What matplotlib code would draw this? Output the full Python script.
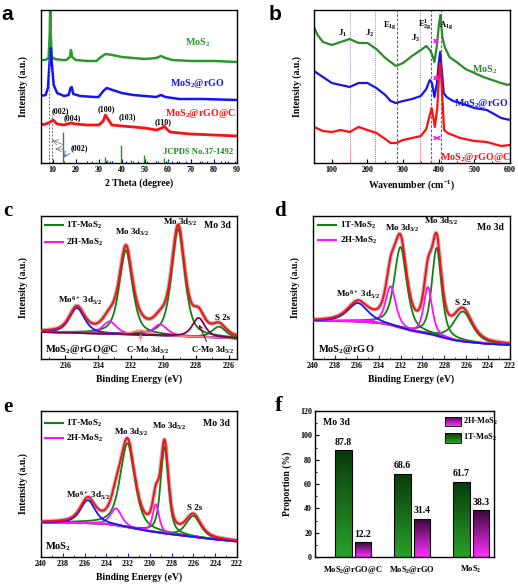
import numpy as np
import matplotlib
matplotlib.use("Agg")
import matplotlib.pyplot as plt
from matplotlib.colors import LinearSegmentedColormap
from matplotlib.ticker import MultipleLocator

plt.rcParams['font.family'] = ['Liberation Serif', 'DejaVu Serif']
plt.rcParams['font.weight'] = 'bold'
plt.rcParams['mathtext.default'] = 'regular'
plt.rcParams['axes.linewidth'] = 1.0

# ---------------- data: panel a (XRD) ----------------
xrd_x_mos2 = [5, 7, 8.3, 8.8, 9.0, 9.2, 9.7, 11, 14, 16, 17.5, 18, 18.5, 20, 25, 29, 31, 33, 36, 40, 45, 50, 55, 57, 59, 62, 70, 80, 90]
xrd_y_mos2 = [103, 103, 105, 130, 160, 130, 106, 104, 103, 103, 106, 113, 106, 103, 102, 102, 106, 109, 108, 106, 105, 104, 105, 107, 105, 103, 102, 102, 101]
xrd_x_rgo = [5, 7, 8, 8.7, 9.2, 9.7, 10.5, 12, 15, 17, 17.8, 18.3, 19, 22, 28, 30, 32, 33.5, 36, 40, 45, 50, 55, 57, 59, 65, 75, 90]
xrd_y_rgo = [67, 68, 75, 100, 115, 100, 78, 70, 67, 68, 75, 76, 69, 67, 66, 66, 72, 75, 73, 70, 68, 67, 66, 68, 66, 64, 64, 63]
xrd_x_c = [5, 7, 9, 10.3, 12, 15, 18, 20, 25, 30, 32, 32.9, 34, 35.7, 40, 45, 50, 55, 57.5, 58.4, 59.5, 61, 65, 70, 80, 90]
xrd_y_c = [38, 39, 41, 43, 39, 38, 40, 39, 38, 38, 42, 48, 44, 38, 37, 36, 35, 33, 35, 37, 34, 31, 30, 29, 28, 27]
jcpds_pos = [14.4, 29.0, 32.7, 33.5, 35.9, 39.5, 44.2, 49.8, 55.9, 58.3, 60.1]
jcpds_h = [31, 1.5, 6, 3, 2, 18, 3, 8, 2, 5, 3]
ref2_pos = [20, 27, 33, 36, 42, 47, 51, 55, 59, 62, 64, 68, 70, 74, 77, 80, 83, 86, 89]
ref2_h = [2, 2, 2, 2, 2, 2, 2, 2, 2, 2, 2, 2, 2, 2, 2, 2, 2, 2, 2]

# ---------------- data: panel b (Raman) ----------------
ram_x_mos2 = [50, 60, 75, 100, 125, 150, 175, 200, 225, 250, 265, 280, 300, 325, 350, 365, 375, 382, 388, 395, 401, 405, 410, 417, 430, 450, 475, 500, 525, 550, 575, 594, 600]
ram_y_mos2 = [136, 128, 121, 118, 121, 124, 120, 120, 114, 105, 101, 97, 100, 107, 113, 117, 113, 108, 101, 118, 140, 148, 126, 116, 106, 101, 94, 90, 86, 83, 80, 78, 79]
ram_x_rgo = [50, 75, 100, 125, 150, 175, 200, 225, 250, 265, 280, 300, 325, 350, 365, 375, 381, 388, 395, 400, 404, 408, 414, 422, 440, 460, 500, 535, 575, 600]
ram_y_rgo = [92, 86, 80, 78, 76, 80, 80, 75, 68, 62, 60, 62, 64, 67, 74, 83, 80, 66, 80, 100, 111, 95, 70, 66, 62, 60, 55, 53, 45, 43]
ram_x_c = [50, 75, 100, 125, 150, 175, 200, 225, 250, 265, 280, 300, 325, 350, 365, 375, 380, 385, 389, 396, 401, 404, 408, 415, 425, 460, 500, 535, 575, 600]
ram_y_c = [36, 32, 31, 33, 31, 36, 33, 30, 24, 20, 20, 23, 25, 27, 34, 48, 55, 45, 36, 55, 90, 100, 80, 33, 30, 25, 22, 21, 17, 18]
raman_lines_dot = [150, 220, 348]
raman_lines_dash = [283, 378, 405]

# ---------------- data: XPS panels c, d, e ----------------
c_bg_x = [237.5, 234, 230, 226, 225.5]
c_bg_y = [27, 25.5, 23.5, 21, 20.5]
c_1t_pos = [232.3, 229.1]; c_1t_h = [84, 107]; c_1t_w = [0.95, 0.95]
c_2h_pos = [233.3, 230.2]; c_2h_h = [12.5, 11]; c_2h_w = [1.0, 1.0]
c_mo6_pos = 235.3; c_mo6_h = 25; c_mo6_w = 1.1
c_cmo_pos = [231.4, 227.85]; c_cmo_h = [4.5, 19]; c_cmo_w = [1.1, 0.9]
c_s2s_pos = 226.6; c_s2s_h = 11; c_s2s_w = 1.0

d_bg_x = [240, 238, 236, 234, 233, 232, 231, 230, 229, 228, 227, 226, 224, 222]
d_bg_y = [38, 38, 37.5, 36, 34, 31, 28, 26, 24, 21, 18.5, 17, 15, 14]
d_1t_pos = [232.0, 228.7]; d_1t_h = [81, 88]; d_1t_w = [1.35, 1.05]
d_2h_pos = [232.9, 229.5]; d_2h_h = [39, 47]; d_2h_w = [1.1, 0.9]
d_mo6_pos = 235.9; d_mo6_h = 18.5; d_mo6_w = 2.2
d_s2s_pos = 226.3; d_s2s_h = 30; d_s2s_w = 2.0

e_bg_x = [240, 236, 234, 233, 232, 231, 230, 229, 228, 226, 224, 222]
e_bg_y = [34.5, 34, 33, 31.5, 29.5, 27.5, 25.5, 24, 22.5, 20, 17.5, 15.5]
e_1t_pos = [232.05, 228.65]; e_1t_h = [84, 87]; e_1t_w = [1.6, 0.85]
e_2h_pos = [233.1, 229.45]; e_2h_h = [17, 28]; e_2h_w = [1.2, 0.7]
e_mo6_pos = 235.7; e_mo6_h = 23; e_mo6_w = 1.6
e_s2s_pos = 226.0; e_s2s_h = 21; e_s2s_w = 1.6

# ---------------- data: panel f ----------------
f_categories = ['MoS$_2$@rGO@C', 'MoS$_2$@rGO', 'MoS$_2$']
f_1t = [87.8, 68.6, 61.7]
f_2h = [12.2, 31.4, 38.3]

GREEN = '#1e8c1e'
BLUE = '#1515f0'
RED = '#ff1010'
MAG = '#ff10ff'
XGREEN = '#108010'

fig = plt.figure(figsize=(5.18, 5.88), dpi=100)
W, H = 518.0, 588.0


def add_ax(l, t, r, b):
    return fig.add_axes([l / W, 1 - b / H, (r - l) / W, (b - t) / H])


def style(ax, maj, mnr, tcolor='black'):
    ax.tick_params(axis='x', which='both', direction='in', labelsize=5.8, pad=2, color=tcolor)
    ax.tick_params(axis='x', which='major', length=3, width=0.8)
    ax.tick_params(axis='x', which='minor', length=1.6, width=0.6)
    ax.xaxis.set_major_locator(MultipleLocator(maj))
    ax.xaxis.set_minor_locator(MultipleLocator(mnr))
    ax.set_yticks([])
    for lab in ax.get_xticklabels():
        lab.set_fontweight('bold')


def pv(x, c, h, w, eta=0.6):
    g = np.exp(-4 * np.log(2) * ((x - c) / w) ** 2)
    l = 1.0 / (1 + 4 * ((x - c) / w) ** 2)
    return h * (eta * l + (1 - eta) * g)


# ================= panel a =================
ax = add_ax(41, 10, 237, 163)
ax.plot(xrd_x_mos2, xrd_y_mos2, color='#2a9a2a', lw=1.8)
ax.plot(xrd_x_rgo, xrd_y_rgo, color=BLUE, lw=1.8)
ax.plot(xrd_x_c, xrd_y_c, color=RED, lw=2.0)
ax.vlines(jcpds_pos, 0, jcpds_h, color='#1a9a1a', lw=1.0)
ax.vlines(ref2_pos, 0, ref2_h, color=BLUE, lw=0.8)
ax.plot([8.4, 8.4], [0, 150], color='#707070', lw=0.7, ls=(0, (2, 1.5)))
ax.plot([9.7, 9.7], [0, 48], color='#707070', lw=0.7, ls=(0, (2, 1.5)))
ax.annotate('', xy=(8.6, 24), xytext=(16, 17), arrowprops=dict(arrowstyle='->', color='#808080', lw=0.6))
ax.annotate('', xy=(9.9, 14), xytext=(16, 14), arrowprops=dict(arrowstyle='->', color='#808080', lw=0.6))
ax.annotate('', xy=(14.4, 3), xytext=(16.5, 11), arrowprops=dict(arrowstyle='->', color='#5060c0', lw=0.6))
ax.text(21.5, 15, '(002)', fontsize=5.8, ha='center', va='center')
for lx, ly, s in [(13.3, 52, '(002)'), (18.5, 45, '(004)'), (33.2, 54, '(100)'), (42.4, 46, '(103)'), (58, 41, '(110)')]:
    ax.text(lx, ly, s, fontsize=5.8, ha='center', va='center')
ax.text(73, 120, 'MoS$_2$', color='#2a9a2a', fontsize=7.2, ha='center', va='center')
ax.text(73, 80, 'MoS$_2$@rGO', color=BLUE, fontsize=7.2, ha='center', va='center')
ax.text(74, 50, 'MoS$_2$@rGO@C', color=RED, fontsize=7.2, ha='center', va='center')
ax.text(73, 11, 'JCPDS No.37-1492', color='#1a8a1a', fontsize=6.2, ha='center', va='center')
ax.set_xlim(5, 90)
ax.set_ylim(0, 153)
style(ax, 10, 5)
ax.set_xlabel('2 Theta (degree)', fontsize=7, fontweight='bold', labelpad=3)
ax.set_ylabel('Intensity (a.u.)', fontsize=7, fontweight='bold', labelpad=9)
fig.text(7 / W, 1 - 15 / H, 'a', fontsize=15, fontweight='bold', family='Liberation Sans', ha='center', va='center')

# ================= panel b =================
ax = add_ax(314, 10, 510, 163)
for xv in raman_lines_dot:
    ax.axvline(xv, color='#9090b8', lw=0.7, ls=(0, (1, 1.2)))
    ax.plot([xv, xv], [0, 30], color='#ff7070', lw=0.7, ls=(0, (1, 1.2)))
for xv in raman_lines_dash:
    ax.axvline(xv, color='#606090', lw=0.8, ls=(0, (2.5, 1.5)))
ax.plot(ram_x_mos2, ram_y_mos2, color='#2a8a2a', lw=1.6)
ax.plot(ram_x_rgo, ram_y_rgo, color=BLUE, lw=1.6)
ax.plot(ram_x_c, ram_y_c, color=RED, lw=1.6)
for yy, x0 in [(122, 377), (85, 377), (25, 382)]:
    ax.annotate('', xy=(x0, yy), xytext=(408, yy), arrowprops=dict(arrowstyle='<->', color=MAG, lw=1.2, mutation_scale=5))
for lx, ly, s in [(131, 130, 'J$_1$'), (207, 130, 'J$_2$'), (263, 138, 'E$_{1g}$'), (334, 125, 'J$_3$'), (362, 138, 'E$^1_{2g}$'), (421, 138, 'A$_{1g}$')]:
    ax.text(lx, ly, s, fontsize=6.3, ha='center', va='center')
ax.text(530, 93, 'MoS$_2$', color='#2a8a2a', fontsize=7.2, ha='center', va='center')
ax.text(519, 60, 'MoS$_2$@rGO', color=BLUE, fontsize=7.2, ha='center', va='center')
ax.text(502, 6, 'MoS$_2$@rGO@C', color=RED, fontsize=7.2, ha='center', va='center')
ax.set_xlim(50, 600)
ax.set_ylim(0, 153)
style(ax, 100, 50)
ax.set_xlabel('Wavenumber (cm$^{-1}$)', fontsize=7, fontweight='bold', labelpad=3)
ax.set_ylabel('Intensity (a.u.)', fontsize=7, fontweight='bold', labelpad=9)
fig.text(275 / W, 1 - 14 / H, 'b', fontsize=15, fontweight='bold', family='Liberation Sans', ha='center', va='center')


# ================= XPS helper =================
def xps_panel(ax, xlim, bg_x, bg_y, t_pos, t_h, t_w, h_pos, h_h, h_w, m_pos, m_h, m_w, s_pos, s_h, s_w,
              extra=None, bg_color=MAG, raw_color='#c4c8d4'):
    x = np.linspace(min(xlim), max(xlim), 800)
    bg = np.interp(x, bg_x[::-1], bg_y[::-1]) if bg_x[0] > bg_x[-1] else np.interp(x, bg_x, bg_y)
    comps = []
    for p, hh, ww in zip(t_pos, t_h, t_w):
        comps.append((pv(x, p, hh, ww), XGREEN))
    comps.append((pv(x, s_pos, s_h, s_w), XGREEN))
    for p, hh, ww in zip(h_pos, h_h, h_w):
        comps.append((pv(x, p, hh, ww), MAG))
    comps.append((pv(x, m_pos, m_h, m_w), BLUE))
    if extra:
        for p, hh, ww, col in extra:
            comps.append((pv(x, p, hh, ww), col))
    env = bg + sum(c for c, _ in comps)
    ax.plot(x, env, color=raw_color, lw=3.2, zorder=1)
    ax.plot(x, bg, color=bg_color, lw=1.3, zorder=2)
    for c, col in comps:
        ax.plot(x, bg + c, color=col, lw=1.3, zorder=3)
    ax.plot(x, env, color=RED, lw=1.5, zorder=4)
    ax.set_xlim(*xlim)


def xps_legend(ax, x0, x1, xt, y1, y2):
    ax.plot([x0, x1], [y1, y1], color=XGREEN, lw=1.5, transform=ax.transAxes)
    ax.plot([x0, x1], [y2, y2], color=MAG, lw=1.5, transform=ax.transAxes)
    ax.text(xt, y1, '1T-MoS$_2$', transform=ax.transAxes, fontsize=6.5, va='center')
    ax.text(xt, y2, '2H-MoS$_2$', transform=ax.transAxes, fontsize=6.5, va='center')


# ================= panel c =================
ax = add_ax(41, 216, 237, 359)
xps_panel(ax, (237.5, 225.5), c_bg_x, c_bg_y, c_1t_pos, c_1t_h, c_1t_w, c_2h_pos, c_2h_h, c_2h_w,
          c_mo6_pos, c_mo6_h, c_mo6_w, c_s2s_pos, c_s2s_h, c_s2s_w,
          extra=[(c_cmo_pos[0], c_cmo_h[0], c_cmo_w[0], '#ff8080'), (c_cmo_pos[1], c_cmo_h[1], c_cmo_w[1], '#800050')],
          bg_color=XGREEN, raw_color='#bdbdbd')
ax.set_ylim(0, 143)
style(ax, 2, 1)
xps_legend(ax, 0.02, 0.112, 0.13, 0.937, 0.818)
ax.text(231.9, 127, 'Mo 3d$_{3/2}$', fontsize=6.5, ha='center', va='center')
ax.text(229.0, 137, 'Mo 3d$_{5/2}$', fontsize=6.5, ha='center', va='center')
ax.text(226.7, 134, 'Mo 3d', fontsize=7, ha='center', va='center')
ax.text(235.1, 58, 'Mo$^{6+}$ 3d$_{5/2}$', fontsize=6.5, ha='center', va='center')
ax.text(226.4, 41, 'S 2s', fontsize=6.5, ha='center', va='center')
ax.text(237.25, 10, 'MoS$_2$@rGO@C', fontsize=7.5, ha='left', va='center')
ax.text(231.0, 9, 'C-Mo 3d$_{3/2}$', fontsize=6.3, ha='center', va='center')
ax.text(227.0, 9, 'C-Mo 3d$_{5/2}$', fontsize=6.3, ha='center', va='center')
ax.annotate('', xy=(231.4, 28), xytext=(231.4, 15), arrowprops=dict(arrowstyle='->', color='#ff8080', lw=0.8, mutation_scale=6))
ax.annotate('', xy=(227.9, 37), xytext=(227.3, 15), arrowprops=dict(arrowstyle='->', color='#800050', lw=0.8, mutation_scale=6))
ax.set_xlabel('Binding Energy (eV)', fontsize=7, fontweight='bold', labelpad=3)
ax.set_ylabel('Intensity (a.u.)', fontsize=7, fontweight='bold', labelpad=9)
fig.text(8 / W, 1 - 211 / H, 'c', fontsize=15, fontweight='bold', ha='center', va='center')

# ================= panel d =================
ax = add_ax(313, 216, 510, 359)
xps_panel(ax, (240, 222), d_bg_x, d_bg_y, d_1t_pos, d_1t_h, d_1t_w, d_2h_pos, d_2h_h, d_2h_w,
          d_mo6_pos, d_mo6_h, d_mo6_w, d_s2s_pos, d_s2s_h, d_s2s_w)
ax.set_ylim(0, 143)
style(ax, 2, 1, tcolor='#2828c8')
xps_legend(ax, 0.025, 0.118, 0.135, 0.937, 0.832)
ax.text(231.8, 131, 'Mo 3d$_{3/2}$', fontsize=6.5, ha='center', va='center')
ax.text(228.3, 138, 'Mo 3d$_{5/2}$', fontsize=6.5, ha='center', va='center')
ax.text(223.8, 132, 'Mo 3d', fontsize=7, ha='center', va='center')
ax.text(235.9, 64, 'Mo$^{6+}$ 3d$_{5/2}$', fontsize=6.5, ha='center', va='center')
ax.text(226.3, 56, 'S 2s', fontsize=6.5, ha='center', va='center')
ax.text(239.5, 10, 'MoS$_2$@rGO', fontsize=7.5, ha='left', va='center')
ax.set_xlabel('Binding Energy (eV)', fontsize=7, fontweight='bold', labelpad=3)
ax.set_ylabel('Intensity (a.u.)', fontsize=7, fontweight='bold', labelpad=9)
fig.text(280 / W, 1 - 211 / H, 'd', fontsize=15, fontweight='bold', ha='center', va='center')

# ================= panel e =================
ax = add_ax(41, 411, 237, 557)
xps_panel(ax, (240, 222), e_bg_x, e_bg_y, e_1t_pos, e_1t_h, e_1t_w, e_2h_pos, e_2h_h, e_2h_w,
          e_mo6_pos, e_mo6_h, e_mo6_w, e_s2s_pos, e_s2s_h, e_s2s_w)
ax.set_ylim(0, 146)
style(ax, 2, 1, tcolor='#2828c8')
xps_legend(ax, 0.02, 0.11, 0.125, 0.916, 0.813)
ax.text(231.7, 125, 'Mo 3d$_{3/2}$', fontsize=6.5, ha='center', va='center')
ax.text(228.2, 131, 'Mo 3d$_{5/2}$', fontsize=6.5, ha='center', va='center')
ax.text(223.9, 134, 'Mo 3d', fontsize=7, ha='center', va='center')
ax.text(235.7, 61, 'Mo$^{6+}$ 3d$_{5/2}$', fontsize=6.5, ha='center', va='center')
ax.text(225.9, 49, 'S 2s', fontsize=6.5, ha='center', va='center')
ax.text(239.6, 10, 'MoS$_2$', fontsize=7.5, ha='left', va='center')
ax.set_xlabel('Binding Energy (eV)', fontsize=7, fontweight='bold', labelpad=3)
ax.set_ylabel('Intensity (a.u.)', fontsize=7, fontweight='bold', labelpad=9)
fig.text(8 / W, 1 - 407 / H, 'e', fontsize=15, fontweight='bold', ha='center', va='center')

# ================= panel f =================
ax = add_ax(315, 411, 494, 557)
cm_1t = LinearSegmentedColormap.from_list('g', ['#2aa02a', '#0a3a0a'])
cm_2h = LinearSegmentedColormap.from_list('m', ['#ff30ff', '#3a083a'])
grad = np.linspace(0, 1, 128).reshape(-1, 1)
bw = 0.28
off = 0.165


def grad_bar(xc, h, cmap):
    bar = ax.bar(xc, h, bw, facecolor='none', edgecolor='black', lw=0.8, zorder=3)[0]
    im = ax.imshow(grad, extent=[xc - bw / 2, xc + bw / 2, 0, h], origin='lower', cmap=cmap,
                   aspect='auto', zorder=2, interpolation='bilinear')
    im.set_clip_path(bar)


for i in range(len(f_categories)):
    grad_bar(i - off, f_1t[i], cm_1t)
    grad_bar(i + off, f_2h[i], cm_2h)
    ax.text(i - off, f_1t[i] + 3, f'{f_1t[i]:.1f}', ha='center', va='bottom', fontsize=7)
    ax.text(i + off, f_2h[i] + 3, f'{f_2h[i]:.1f}', ha='center', va='bottom', fontsize=7)

# legend with gradient patches
for (y0, y1, cmap, lab) in [(107.3, 114.8, cm_2h, '2H-MoS$_2$'), (94.1, 102.3, cm_1t, '1T-MoS$_2$')]:
    r = plt.Rectangle((1.557, y0), 0.273, y1 - y0, facecolor='none', edgecolor='black', lw=0.6, zorder=3)
    ax.add_patch(r)
    im = ax.imshow(grad, extent=[1.557, 1.83, y0, y1], origin='lower', cmap=cmap, aspect='auto', zorder=2)
    im.set_clip_path(r)
    ax.text(1.87, (y0 + y1) / 2, lab, fontsize=6.0, va='center', ha='left')
ax.text(-0.51, 110.5, 'Mo 3d', fontsize=7, va='center', ha='left')
ax.set_xlim(-0.65, 2.39)
ax.set_ylim(0, 120)
ax.set_xticks(range(len(f_categories)))
ax.set_xticklabels(f_categories, fontsize=6.0, fontweight='bold')
ax.tick_params(axis='x', length=0, pad=5)
ax.yaxis.set_major_locator(MultipleLocator(20))
ax.yaxis.set_minor_locator(MultipleLocator(10))
ax.tick_params(axis='y', which='both', direction='in', labelsize=5.8, pad=2)
ax.tick_params(axis='y', which='major', length=3, width=0.8)
ax.tick_params(axis='y', which='minor', length=1.6, width=0.6)
for lab in ax.get_yticklabels():
    lab.set_fontweight('bold')
ax.set_ylabel('Proportion (%)', fontsize=7, fontweight='bold', labelpad=6)
fig.text(279 / W, 1 - 406 / H, 'f', fontsize=16, fontweight='bold', ha='center', va='center')

fig.savefig('out.png', dpi=100)
